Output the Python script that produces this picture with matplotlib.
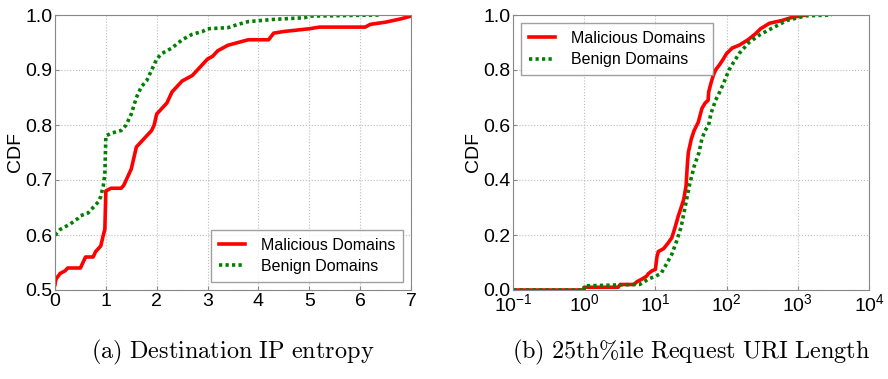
import matplotlib
matplotlib.use("Agg")
import matplotlib.pyplot as plt
import numpy as np

plt.rcParams['font.family'] = ['Liberation Sans', 'DejaVu Sans']
plt.rcParams['mathtext.default'] = 'regular'

# (a) Destination IP entropy
ent_mal_x = [0, 0.02, 0.1, 0.2, 0.25, 0.5, 0.55, 0.6, 0.75, 0.8, 0.9, 0.95, 0.98, 1.0, 1.1, 1.3, 1.35, 1.4,
             1.5, 1.55, 1.6, 1.7, 1.8, 1.9, 1.95, 2.0, 2.1, 2.2, 2.3, 2.4, 2.5, 2.7, 2.8, 2.9, 3.0, 3.1, 3.2,
             3.3, 3.4, 3.6, 3.8, 4.2, 4.3, 4.5, 4.8, 5.0, 5.2, 6.1, 6.2, 6.5, 6.8, 7.0]
ent_mal_y = [0.51, 0.52, 0.53, 0.535, 0.54, 0.54, 0.55, 0.56, 0.56, 0.57, 0.58, 0.60, 0.61, 0.68, 0.685, 0.685,
             0.69, 0.70, 0.72, 0.74, 0.76, 0.77, 0.78, 0.79, 0.80, 0.82, 0.83, 0.84, 0.86, 0.87, 0.88, 0.89,
             0.90, 0.91, 0.92, 0.925, 0.935, 0.94, 0.945, 0.95, 0.955, 0.955, 0.967, 0.97, 0.973, 0.975, 0.978,
             0.978, 0.983, 0.987, 0.993, 0.998]
ent_ben_x = [0, 0.1, 0.3, 0.45, 0.5, 0.65, 0.75, 0.85, 0.9, 0.95, 0.98, 1.0, 1.1, 1.3, 1.4, 1.5, 1.6, 1.7,
             1.8, 1.9, 2.0, 2.1, 2.3, 2.5, 2.7, 2.9, 3.0, 3.4, 3.6, 3.8, 4.3, 4.9, 5.0, 6.4]
ent_ben_y = [0.60, 0.61, 0.62, 0.63, 0.635, 0.64, 0.65, 0.66, 0.67, 0.69, 0.71, 0.78, 0.785, 0.79, 0.80, 0.82,
             0.85, 0.87, 0.88, 0.90, 0.92, 0.93, 0.94, 0.955, 0.965, 0.97, 0.975, 0.977, 0.983, 0.988, 0.992,
             0.995, 0.998, 1.0]

# (b) 25th%ile Request URI Length
uri_mal_x = [0.1, 1.0, 1.0, 3, 3.2, 5, 5.5, 6.5, 7.5, 8, 9, 10, 10.5, 11, 13, 15, 17, 19, 21, 23, 25, 27, 28,
             29, 32, 35, 40, 45, 50, 55, 56, 60, 65, 70, 80, 90, 100, 120, 150, 200, 250, 300, 400, 600, 800,
             1000, 1300]
uri_mal_y = [0.0, 0.0, 0.01, 0.01, 0.02, 0.02, 0.03, 0.04, 0.05, 0.06, 0.07, 0.075, 0.12, 0.14, 0.15, 0.17,
             0.19, 0.23, 0.27, 0.30, 0.33, 0.38, 0.45, 0.50, 0.55, 0.58, 0.61, 0.66, 0.68, 0.69, 0.72, 0.75,
             0.78, 0.80, 0.82, 0.84, 0.86, 0.88, 0.89, 0.91, 0.93, 0.95, 0.97, 0.98, 0.99, 0.995, 1.0]
uri_ben_x = [0.1, 1.0, 1.0, 5, 6, 7, 8, 10, 12, 14, 17, 20, 23, 27, 30, 35, 41, 45, 50, 56, 60, 70, 80, 90,
             108, 120, 150, 206, 300, 500, 700, 1000, 1300, 3000]
uri_ben_y = [0.0, 0.0, 0.015, 0.02, 0.02, 0.03, 0.04, 0.05, 0.06, 0.09, 0.13, 0.18, 0.23, 0.32, 0.38, 0.45,
             0.50, 0.55, 0.58, 0.60, 0.64, 0.69, 0.72, 0.75, 0.80, 0.82, 0.86, 0.90, 0.93, 0.96, 0.98,
             0.99, 0.997, 1.0]

labels = ['Malicious Domains', 'Benign Domains']
captions = ['(a) Destination IP entropy', '(b) 25th%ile Request URI Length']

W, H = 888, 379
fig = plt.figure(figsize=(W / 100, H / 100), dpi=100)
ax1 = fig.add_axes([55 / W, 1 - 290 / H, 356 / W, 275 / H])
ax2 = fig.add_axes([513 / W, 1 - 290 / H, 356 / W, 275 / H])

red = '#ff0000'
green = '#008000'
dots = (0, (0.9, 0.9))
for ax in (ax1, ax2):
    ax.grid(True, color='#bbbbbb', linestyle=':', linewidth=0.8)
    for s in ax.spines.values():
        s.set_color('#888888')
    ax.tick_params(labelsize=14, direction='in', length=3, color='#888888', pad=2)
    ax.set_ylabel('CDF', fontsize=14, labelpad=1)

legkw = dict(fontsize=11.5, fancybox=False, edgecolor='#888888', handlelength=1.6,
             borderpad=0.5, labelspacing=0.4, handletextpad=1.0)

ax1.plot(ent_mal_x, ent_mal_y, color=red, lw=2.6, label=labels[0])
ax1.plot(ent_ben_x, ent_ben_y, color=green, lw=2.6, ls=dots, label=labels[1])
ax1.set_xlim(0, 7)
ax1.set_ylim(0.5, 1.0)
ax1.set_xticks(range(8))
ax1.set_yticks([0.5, 0.6, 0.7, 0.8, 0.9, 1.0])
ax1.legend(loc='lower right', **legkw)

ax2.plot(uri_mal_x, uri_mal_y, color=red, lw=2.6, label=labels[0])
ax2.plot(uri_ben_x, uri_ben_y, color=green, lw=2.6, ls=dots, label=labels[1])
ax2.set_xscale('log')
ax2.set_xlim(0.1, 1e4)
ax2.set_ylim(0, 1.0)
ax2.set_xticks([0.1, 1, 10, 100, 1000, 10000])
ax2.xaxis.set_minor_locator(matplotlib.ticker.NullLocator())
ax2.set_yticks([0, 0.2, 0.4, 0.6, 0.8, 1.0])
ax2.legend(loc='upper left', **legkw)

for ax, cap in zip((ax1, ax2), captions):
    txt = cap.replace(' ', r'\ ').replace('%', r'\%')
    bb = ax.get_position()
    fig.text((bb.x0 + bb.x1) / 2, 1 - 352 / H, r'$\mathrm{' + txt + '}$', ha='center', va='center',
             fontsize=17.5, math_fontfamily='cm')

fig.savefig('out.png', dpi=100)
